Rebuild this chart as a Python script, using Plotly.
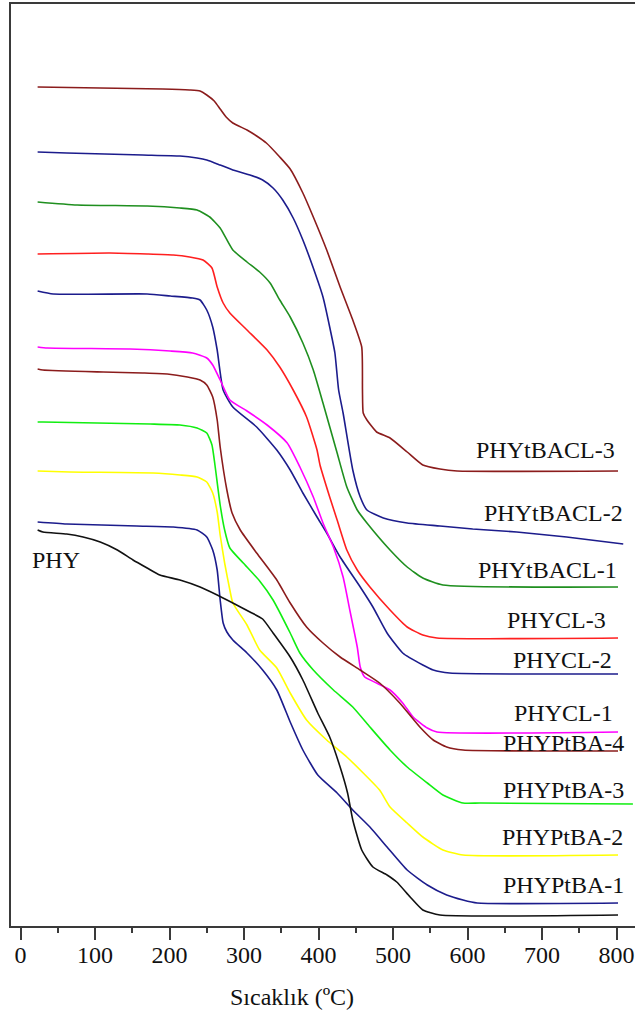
import plotly.graph_objects as go

# Temperature (°C) and stacked mass signal (arbitrary units, curves offset vertically)
T_tbacl3 = [23, 191, 227, 241, 250, 260, 268, 276, 285, 304, 317, 330, 348, 362, 379, 393, 411, 429, 446, 458, 459, 460, 465, 478, 496, 519, 540, 563, 586, 802]
m_tbacl3 = [839, 837, 836, 835, 831, 825, 817, 809, 803, 796, 790, 783, 769, 757, 733, 709, 676, 639, 606, 579, 536, 513, 506, 494, 488, 474, 461, 457, 455, 455]

T_tbacl2 = [23, 62, 164, 214, 237, 250, 268, 285, 308, 325, 339, 352, 366, 379, 393, 406, 415, 422, 427, 433, 446, 456, 465, 487, 519, 563, 607, 666, 733, 809]
m_tbacl2 = [774, 773, 771, 770, 768, 766, 761, 756, 751, 746, 738, 726, 708, 686, 658, 629, 599, 573, 536, 513, 456, 429, 416, 408, 403, 400, 397, 394, 389, 382]

T_tbacl1 = [23, 76, 170, 214, 237, 254, 268, 285, 304, 321, 335, 348, 362, 379, 393, 406, 425, 438, 452, 465, 496, 519, 540, 567, 802]
m_tbacl1 = [724, 721, 720, 718, 716, 709, 698, 676, 664, 654, 643, 626, 609, 583, 556, 523, 473, 439, 416, 403, 376, 359, 348, 341, 339]

T_cl3 = [23, 120, 170, 205, 227, 245, 257, 264, 272, 281, 304, 331, 348, 366, 384, 398, 402, 415, 425, 438, 452, 469, 496, 519, 540, 559, 802]
m_cl3 = [672, 673, 672, 671, 669, 666, 658, 639, 623, 613, 596, 576, 559, 536, 509, 476, 461, 429, 406, 376, 356, 339, 316, 299, 291, 288, 288]

T_cl2 = [23, 44, 170, 201, 231, 241, 250, 258, 264, 272, 285, 317, 344, 362, 379, 398, 411, 429, 456, 473, 492, 513, 540, 554, 576, 802]
m_cl2 = [635, 632, 632, 630, 628, 626, 616, 599, 576, 536, 519, 499, 476, 456, 433, 409, 393, 369, 339, 319, 293, 273, 261, 256, 253, 252]

T_cl1 = [23, 36, 147, 201, 231, 250, 258, 268, 281, 304, 331, 358, 375, 393, 406, 420, 433, 442, 452, 456, 462, 478, 496, 513, 527, 546, 559, 802]
m_cl1 = [579, 578, 577, 575, 573, 568, 561, 546, 526, 515, 501, 483, 459, 429, 403, 379, 349, 316, 279, 259, 249, 243, 236, 223, 209, 198, 194, 194]

T_ptba4 = [23, 30, 111, 164, 197, 224, 241, 250, 258, 264, 268, 277, 284, 295, 317, 344, 362, 384, 406, 429, 456, 482, 509, 536, 554, 572, 594, 802]
m_ptba4 = [557, 556, 554, 553, 552, 549, 546, 541, 529, 506, 479, 436, 413, 396, 373, 346, 323, 299, 283, 269, 256, 243, 223, 199, 186, 179, 176, 175]

T_ptba3 = [23, 30, 174, 214, 237, 250, 257, 261, 268, 274, 281, 299, 321, 339, 362, 375, 393, 420, 446, 469, 496, 519, 546, 567, 594, 617, 822]
m_ptba3 = [504, 504, 502, 501, 498, 493, 481, 461, 421, 396, 378, 363, 345, 326, 293, 273, 256, 236, 219, 199, 176, 159, 143, 131, 123, 123, 122]

T_ptba2 = [23, 66, 178, 214, 237, 250, 258, 264, 268, 274, 281, 285, 304, 321, 344, 362, 384, 411, 438, 460, 482, 496, 519, 540, 567, 594, 802]
m_ptba2 = [455, 454, 453, 451, 449, 444, 433, 414, 391, 363, 336, 323, 301, 276, 258, 233, 206, 186, 169, 153, 136, 119, 103, 89, 76, 71, 71]

T_ptba1 = [23, 62, 156, 205, 237, 250, 258, 264, 268, 272, 277, 285, 304, 325, 344, 362, 379, 399, 425, 446, 469, 492, 519, 546, 572, 594, 613, 802]
m_ptba1 = [404, 402, 400, 399, 396, 389, 376, 356, 326, 303, 294, 286, 273, 256, 236, 204, 176, 151, 133, 116, 99, 79, 56, 41, 31, 26, 23, 23]

T_phy = [23, 30, 62, 84, 107, 130, 151, 170, 187, 214, 241, 264, 285, 308, 325, 339, 362, 379, 399, 415, 429, 439, 446, 458, 473, 492, 505, 523, 540, 563, 802]
m_phy = [396, 394, 392, 389, 384, 376, 366, 358, 351, 346, 339, 331, 323, 314, 307, 293, 269, 246, 213, 189, 159, 133, 106, 76, 59, 51, 44, 29, 16, 11, 11]

sample_names = ["PHYtBACL-3", "PHYtBACL-2", "PHYtBACL-1", "PHYCL-3", "PHYCL-2",
                "PHYCL-1", "PHYPtBA-4", "PHYPtBA-3", "PHYPtBA-2", "PHYPtBA-1", "PHY"]
x_ticks = [0, 100, 200, 300, 400, 500, 600, 700, 800]
x_title = "Sıcaklık (ºC)"

series = [
    (T_tbacl3, m_tbacl3), (T_tbacl2, m_tbacl2), (T_tbacl1, m_tbacl1),
    (T_cl3, m_cl3), (T_cl2, m_cl2), (T_cl1, m_cl1),
    (T_ptba4, m_ptba4), (T_ptba3, m_ptba3), (T_ptba2, m_ptba2),
    (T_ptba1, m_ptba1), (T_phy, m_phy),
]

# line colours per sample
colors = ["#8b1c1c", "#1c1c8c", "#1f8f1f", "#ff1f1f", "#1c1c8c",
          "#ff00ff", "#8b1c1c", "#11ee11", "#ffff00", "#1c1c8c", "#111111"]

# label placement (x in °C, y in signal units)
label_pos = [
    (704, 476), (716, 413), (708, 356), (719.5, 306), (727, 266), (729, 213),
    (729, 183), (729, 136), (727, 89), (729, 41), (47.7, 366),
]

FONT = "Liberation Serif, Times New Roman, serif"

fig = go.Figure()
for name, (tx, my), col in zip(sample_names, series, colors):
    fig.add_trace(go.Scatter(x=tx, y=my, mode="lines", name=name,
                             line=dict(color=col, width=1.6, shape="spline", smoothing=0.5),
                             showlegend=False, hoverinfo="skip"))

for name, (lx, ly) in zip(sample_names, label_pos):
    fig.add_annotation(x=lx, y=ly, xref="x", yref="y", text=name, showarrow=False,
                       xanchor="center", yanchor="middle",
                       font=dict(family=FONT, size=24, color="#111111"))

fig.add_annotation(x=0.45, y=-0.077, xref="paper", yref="paper", text=x_title,
                   showarrow=False, xanchor="center", yanchor="middle",
                   font=dict(family=FONT, size=24, color="#111111"))

axis_col = "#3a3a3a"
fig.update_xaxes(range=[-12.75, 824.8], tickvals=x_ticks, ticktext=[str(v) for v in x_ticks],
                 ticks="outside", ticklen=12, tickwidth=2, tickcolor=axis_col,
                 ticklabelstandoff=-6,
                 showline=True, linewidth=2, linecolor=axis_col, mirror=True,
                 showgrid=False, zeroline=False,
                 minor=dict(ticks="outside", dtick=50, tick0=0, ticklen=5, tickwidth=2,
                            tickcolor=axis_col, showgrid=False),
                 tickfont=dict(family=FONT, size=24, color="#111111"))
fig.update_yaxes(range=[0, 922], showticklabels=False, ticks="", showgrid=False,
                 zeroline=False, showline=True, linewidth=2, linecolor=axis_col)

fig.update_layout(width=635, height=1018, margin=dict(l=11, r=0, t=4, b=92),
                  plot_bgcolor="white", paper_bgcolor="white")

fig.write_html("out.html")
